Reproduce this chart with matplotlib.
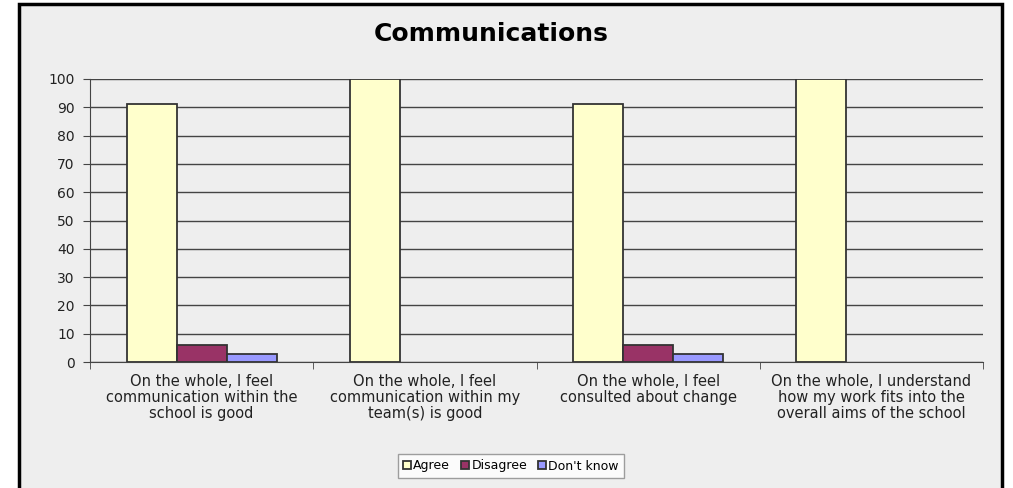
import matplotlib.pyplot as plt
import matplotlib.patches as patches
import numpy as np

categories = [
    'On the whole, I feel\ncommunication within the\nschool is good',
    'On the whole, I feel\ncommunication within my\nteam(s) is good',
    'On the whole, I feel\nconsulted about change',
    'On the whole, I understand\nhow my work fits into the\noverall aims of the school',
]
agree = [91, 100, 91, 100]
disagree = [6, 0, 6, 0]
dont_know = [3, 0, 3, 0]

series = ['Agree', 'Disagree', "Don't know"]
colors = ['#FFFFCC', '#993366', '#9999FF']

plt.rcParams['font.family'] = ['DejaVu Sans']

W, H = 1013, 488
fig = plt.figure(figsize=(W / 100, H / 100), dpi=100)
fig.patch.set_facecolor('white')

# outer chart frame (behind everything)
frame = patches.Rectangle((19 / W, -0.01), 983 / W, 484 / H + 0.01, transform=fig.transFigure,
                          facecolor='#EEEEEE', edgecolor='black', linewidth=2.5, zorder=-10)
fig.patches.append(frame)

ax = fig.add_axes([90 / W, 1 - 362 / H, (983 - 90) / W, (362 - 79) / H])
ax.patch.set_alpha(0)
ax.set_zorder(5)

x = np.arange(len(categories))
bw = 0.224
for i, (vals, c) in enumerate(zip([agree, disagree, dont_know], colors)):
    bars = ax.bar(x + (i - 1) * bw, vals, width=bw, color=c, edgecolor='#333333',
                  linewidth=1.3, label=series[i], zorder=3)
    for b, v in zip(bars, vals):
        if v == 0:
            b.set_linewidth(0)

ax.set_xlim(-0.5, len(categories) - 0.5)
ax.set_ylim(0, 100)
ax.set_yticks(range(0, 101, 10))
ax.yaxis.grid(True, color='#444444', linewidth=1, zorder=0)
ax.set_axisbelow(True)
ax.tick_params(axis='y', length=5, color='#444444', labelsize=10, pad=6, labelcolor='#222222')

ax.set_xticks(x)
ax.set_xticklabels(categories, fontsize=10.5, linespacing=1.05, color='#222222')
ax.set_xticks(np.arange(-0.5, len(categories)), minor=True)
ax.tick_params(axis='x', which='major', length=0, pad=9)
ax.tick_params(axis='x', which='minor', length=5, color='#444444')

for s in ['top', 'right']:
    ax.spines[s].set_visible(False)
for s in ['left', 'bottom']:
    ax.spines[s].set_color('#444444')

fig.text(491 / W, 1 - 34 / H, 'Communications', ha='center', va='center',
         fontsize=18, fontweight='bold')

leg = fig.legend(loc='center', bbox_to_anchor=(511 / W, 1 - 466 / H), ncol=3,
                 fontsize=9, handlelength=0.6, handleheight=0.6, handletextpad=0.2,
                 columnspacing=0.9, frameon=True, fancybox=False, borderpad=0.45)
leg.get_frame().set_edgecolor('#888888')
leg.get_frame().set_facecolor('white')
leg.get_frame().set_linewidth(1)

fig.savefig('out.png', dpi=100)
